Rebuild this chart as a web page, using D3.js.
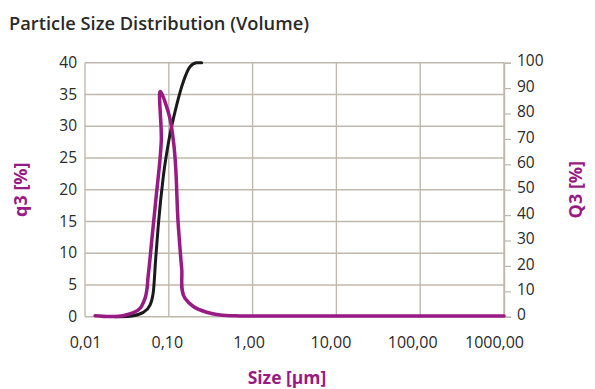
<!DOCTYPE html>
<html><head><meta charset="utf-8">
<script src="https://cdn.jsdelivr.net/npm/d3@7"></script>
<style>
body{margin:0;background:#fff;}
svg{display:block;font-family:"Open Sans",sans-serif;}
</style></head>
<body><svg id="c" width="595" height="389"></svg>
<script>
// Data
const xTicks = [0.01, 0.1, 1, 10, 100, 1000];
const xTickLabels = ["0,01", "0,10", "1,00", "10,00", "100,00", "1000,00"];
const leftTicks = [0, 5, 10, 15, 20, 25, 30, 35, 40];
const rightTicks = [0, 10, 20, 30, 40, 50, 60, 70, 80, 90, 100];
// q3 density (left axis): size µm, q3 %
const q3Size = [0.0132, 0.0199, 0.0284, 0.0453, 0.052, 0.0569, 0.0630, 0.0704, 0.0814, 0.0802, 0.1033, 0.1132, 0.1298, 0.1425, 0.156, 0.196, 0.283, 0.408, 0.708, 2, 20, 1000];
const q3Val  = [0.16, 0.03, 0.16, 1.3, 2.9, 6.6, 12.4, 18.7, 27.8, 35.4, 31.2, 27.8, 14.4, 7.6, 2.9, 1.6, 0.7, 0.27, 0.12, 0.12, 0.12, 0.12];
// Q3 cumulative (right axis)
const Q3Size = [0.0228, 0.0344, 0.0497, 0.0597, 0.0654, 0.0698, 0.075, 0.0859, 0.1004, 0.124, 0.149, 0.179, 0.215, 0.247];
const Q3Val  = [0, 0.2, 1.7, 4.6, 9.8, 23, 36.1, 55.1, 69.6, 83.3, 92.5, 98.4, 100, 100];

const svg = d3.select("#c");
const L = 85, R = 504, T = 62.7, B = 316.7;
const x = d3.scaleLog().domain([0.01, 1000]).range([L, R]);
const yL = d3.scaleLinear().domain([0, 40]).range([B, T]);
const yR = d3.scaleLinear().domain([0, 100]).range([B, T]);
const gridC = "#c0b8ad", txtC = "#2a2a2a", purple = "#981a84";
const tickFs = 15.5;

// Title
svg.append("text").attr("x", 9).attr("y", 29.5).attr("font-size", 18.3).attr("font-weight", 600)
  .attr("fill", txtC).text("Particle Size Distribution (Volume)");

// Grid
const g = svg.append("g");
g.selectAll("line.h").data(leftTicks).join("line").attr("class", "h")
  .attr("x1", L).attr("x2", R).attr("y1", d => yL(d)).attr("y2", d => yL(d))
  .attr("stroke", gridC).attr("stroke-width", 1.4);
g.selectAll("line.v").data(xTicks).join("line").attr("class", "v")
  .attr("x1", d => x(d)).attr("x2", d => x(d)).attr("y1", T).attr("y2", B)
  .attr("stroke", gridC).attr("stroke-width", 1.4);

// Left axis labels
const axL = svg.append("g").attr("transform", `translate(${L},0)`)
  .call(d3.axisLeft(yL).tickValues(leftTicks).tickSize(0).tickPadding(8).tickFormat(d3.format("d")));
axL.select(".domain").remove();
axL.selectAll("text").attr("font-size", tickFs).attr("fill", txtC).attr("font-family", "Open Sans").attr("dy", "0.3em");

// Right axis
const axR = svg.append("g").attr("transform", `translate(${R},0)`)
  .call(d3.axisRight(yR).tickValues(rightTicks).tickSize(7).tickPadding(6).tickFormat(d3.format("d")));
axR.select(".domain").attr("stroke", gridC).attr("stroke-width", 1.4);
axR.selectAll("line").attr("stroke", gridC).attr("stroke-width", 1.2);
axR.selectAll("text").attr("font-size", tickFs).attr("fill", txtC).attr("font-family", "Open Sans").attr("dy", "0.2em");

// Bottom axis labels
const axB = svg.append("g").attr("transform", `translate(0,${B})`)
  .call(d3.axisBottom(x).tickValues(xTicks).tickSize(0).tickPadding(20).tickFormat((d, i) => xTickLabels[i]));
axB.select(".domain").remove();
axB.selectAll("text").attr("font-size", 16).attr("fill", txtC).attr("font-family", "Open Sans")
  .attr("dx", (d, i) => -2 * i);

// Axis titles
svg.append("text").attr("transform", `translate(27,${(T + B) / 2}) rotate(-90)`).attr("text-anchor", "middle")
  .attr("font-size", 18).attr("font-weight", 700).attr("fill", purple).text("q3 [%]");
svg.append("text").attr("transform", `translate(582,${(T + B) / 2}) rotate(-90)`).attr("text-anchor", "middle")
  .attr("font-size", 18).attr("font-weight", 700).attr("fill", purple).text("Q3 [%]");
svg.append("text").attr("x", 287).attr("y", 384).attr("text-anchor", "middle")
  .attr("font-size", 17.5).attr("font-weight", 700).attr("fill", purple).text("Size [µm]");

// Curves
const lineQ = d3.line().x(d => x(d[0])).y(d => yR(d[1])).curve(d3.curveMonotoneX);
svg.append("path").datum(Q3Size.map((s, i) => [s, Q3Val[i]])).attr("d", lineQ)
  .attr("fill", "none").attr("stroke", "#1a1a1a").attr("stroke-width", 3).attr("stroke-linecap", "round");
const lineq = d3.line().x(d => x(d[0])).y(d => yL(d[1])).curve(d3.curveCatmullRom.alpha(1));
svg.append("path").datum(q3Size.map((s, i) => [s, q3Val[i]])).attr("d", lineq)
  .attr("fill", "none").attr("stroke", purple).attr("stroke-width", 3.5).attr("stroke-linejoin", "round").attr("stroke-linecap", "round");
</script></body></html>
